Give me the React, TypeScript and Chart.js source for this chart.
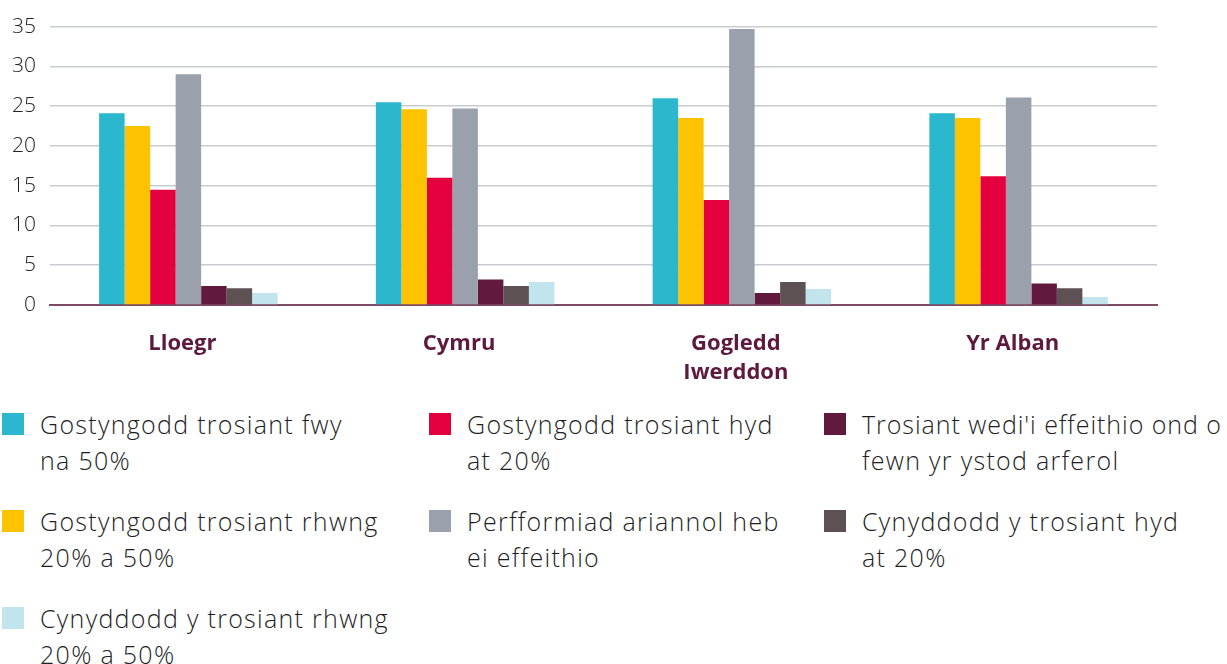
import React, { useEffect, useRef } from "react";
import { Chart, registerables } from "chart.js";

Chart.register(...registerables);

const categories: (string | string[])[] = ["Lloegr", "Cymru", ["Gogledd", "Iwerddon"], "Yr Alban"];

const seriesNames = [
  "Gostyngodd trosiant fwy na 50%",
  "Gostyngodd trosiant rhwng 20% a 50%",
  "Gostyngodd trosiant hyd at 20%",
  "Perfformiad ariannol heb ei effeithio",
  "Trosiant wedi'i effeithio ond o fewn yr ystod arferol",
  "Cynyddodd y trosiant hyd at 20%",
  "Cynyddodd y trosiant rhwng 20% a 50%",
];

const fellOver50 = [24.1, 25.5, 26.0, 24.1];
const fell20to50 = [22.5, 24.6, 23.5, 23.5];
const fellUpTo20 = [14.5, 16.0, 13.2, 16.2];
const unaffected = [29.0, 24.7, 34.7, 26.1];
const normalRange = [2.4, 3.2, 1.5, 2.7];
const roseUpTo20 = [2.1, 2.4, 2.9, 2.1];
const rose20to50 = [1.5, 2.9, 2.0, 1.0];

const seriesValues = [fellOver50, fell20to50, fellUpTo20, unaffected, normalRange, roseUpTo20, rose20to50];

const colors = ["#2bb7ce", "#fdc300", "#e4003f", "#9aa0ac", "#611a3e", "#5d5154", "#c2e4ed"];

const yTicks = [0, 5, 10, 15, 20, 25, 30, 35];

const legendLines: [string, string][] = [
  ["Gostyngodd trosiant fwy", "na 50%"],
  ["Gostyngodd trosiant rhwng", "20% a 50%"],
  ["Gostyngodd trosiant hyd", "at 20%"],
  ["Perfformiad ariannol heb", "ei effeithio"],
  ["Trosiant wedi'i effeithio ond o", "fewn yr ystod arferol"],
  ["Cynyddodd y trosiant hyd", "at 20%"],
  ["Cynyddodd y trosiant rhwng", "20% a 50%"],
];
const legendPos: [number, number][] = [
  [0, 0],
  [0, 1],
  [1, 0],
  [1, 1],
  [2, 0],
  [2, 1],
  [0, 2],
];
const colX = [2, 429, 824];
const rowY = [413, 510, 607];

const FONT = "'Open Sans', Lato, sans-serif";

export default function App() {
  const ref = useRef<HTMLCanvasElement>(null);

  useEffect(() => {
    document.body.style.margin = "0";
    const ctx = ref.current!;
    const chart = new Chart(ctx, {
      type: "bar",
      data: {
        labels: categories as any,
        datasets: seriesValues.map((vals, i) => ({
          label: seriesNames[i],
          data: vals,
          backgroundColor: colors[i],
          borderWidth: 0,
          categoryPercentage: 0.645,
          barPercentage: 1,
        })),
      },
      options: {
        animation: false,
        responsive: false,
        maintainAspectRatio: false,
        layout: { padding: { top: 24, right: 70, left: 0, bottom: 0 } },
        plugins: { legend: { display: false }, tooltip: { enabled: false } },
        scales: {
          x: {
            grid: { display: false, drawTicks: false },
            border: { display: true, color: "#7d4b66", width: 2 },
            ticks: {
              padding: 24,
              labelOffset: -6,
              color: "#5e1a3e",
              font: { family: FONT, size: 22, weight: "bold", lineHeight: 1.32 },
              maxRotation: 0,
              autoSkip: false,
            },
            afterFit: (s: any) => {
              s.height = 85;
            },
          },
          y: {
            min: 0,
            max: 35,
            afterBuildTicks: (s: any) => {
              s.ticks = yTicks.map((v) => ({ value: v }));
            },
            grid: {
              drawTicks: false,
              color: (c: any) => (c.tick && c.tick.value === 0 ? "rgba(0,0,0,0)" : "#c8cbd0"),
              lineWidth: 1.5,
            },
            border: { display: false },
            ticks: {
              padding: 14,
              color: "#222",
              font: { family: FONT, size: 21, weight: 300 },
            },
            afterFit: (s: any) => {
              s.width = 50;
            },
          },
        },
      },
    });
    return () => chart.destroy();
  }, []);

  return (
    <div style={{ position: "absolute", left: 0, top: 0, width: 1227, height: 664, background: "#fff", overflow: "hidden" }}>
      <canvas ref={ref} width={1227} height={390} style={{ position: "absolute", left: 0, top: 0 }} />
      {legendLines.map((lines, i) => {
        const [c, r] = legendPos[i];
        return (
          <div key={i} style={{ position: "absolute", left: colX[c], top: rowY[r] }}>
            <div style={{ position: "absolute", left: 0, top: 0, width: 22, height: 22, background: colors[i] }} />
            <div
              style={{
                position: "absolute",
                left: 38,
                top: -7,
                whiteSpace: "nowrap",
                fontFamily: FONT,
                fontSize: 25,
                letterSpacing: "1.3px",
                lineHeight: "36px",
                color: "#1e1e1e",
                fontWeight: 300,
              }}
            >
              <div style={lines[0].length > 28 ? { letterSpacing: "0.95px" } : undefined}>{lines[0]}</div>
              <div>{lines[1]}</div>
            </div>
          </div>
        );
      })}
    </div>
  );
}
